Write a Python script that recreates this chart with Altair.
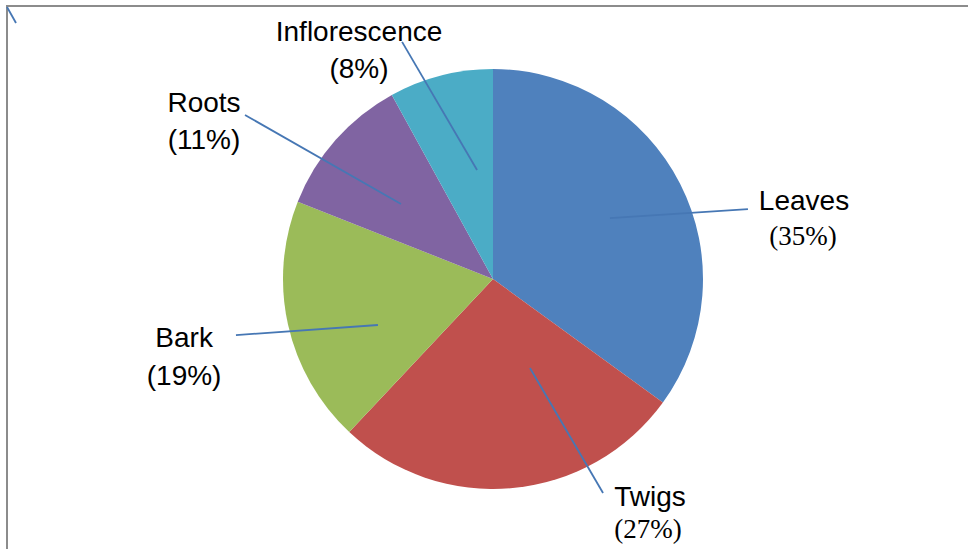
import altair as alt
import pandas as pd

# ---- data ----
categories = ["Leaves", "Twigs", "Bark", "Roots", "Inflorescence"]
shares = [35, 27, 19, 11, 8]
pct_labels = ["(35%)", "(27%)", "(19%)", "(11%)", "(8%)"]
colors = ["#4F81BD", "#C0504D", "#9BBB59", "#8064A2", "#4BACC6"]

# ---- layout (units of pie radius, relative to pie centre) ----
W, H = 968, 549
CX, CY, R = 493, 279, 210
name_xy = [(1.481, 0.367), (0.748, -1.043), (-1.471, -0.286), (-1.376, 0.833), (-0.638, 1.171)]
pct_xy = [(1.476, 0.200), (0.738, -1.195), (-1.471, -0.467), (-1.376, 0.657), (-0.638, 0.995)]
pct_serif = [True, True, False, False, False]
line_in = [(0.557, 0.290), (0.176, -0.424), (-0.548, -0.219), (-0.438, 0.357), (-0.076, 0.519)]
line_out = [(1.214, 0.333), (0.524, -1.019), (-1.224, -0.267), (-1.181, 0.781), (-0.433, 1.129)]

xdom = [(0 - CX) / R, (W - CX) / R]
ydom = [(CY - H) / R, CY / R]
xs = alt.Scale(domain=xdom, range=[0, W], nice=False, zero=False)
ys = alt.Scale(domain=ydom, range=[H, 0], nice=False, zero=False)

pie_df = pd.DataFrame({"cat": categories, "share": shares, "idx": list(range(len(categories)))})
names_df = pd.DataFrame({"cat": categories,
                         "x": [p[0] for p in name_xy], "y": [p[1] for p in name_xy]})
pct_df = pd.DataFrame({"t": pct_labels, "serif": pct_serif,
                       "x": [p[0] for p in pct_xy], "y": [p[1] for p in pct_xy]})
lines_df = pd.DataFrame({"x": [p[0] for p in line_in], "y": [p[1] for p in line_in],
                         "x2": [p[0] for p in line_out], "y2": [p[1] for p in line_out]})

pie = alt.Chart(pie_df).mark_arc(outerRadius=R).encode(
    theta=alt.Theta("share:Q", stack=True),
    order=alt.Order("idx:Q"),
    color=alt.Color("cat:N", scale=alt.Scale(domain=categories, range=colors), legend=None),
    x=alt.value(CX), y=alt.value(CY),
)

leaders = alt.Chart(lines_df).mark_rule(color="#4677B4", strokeWidth=1.8).encode(
    x=alt.X("x:Q", scale=xs, axis=None), y=alt.Y("y:Q", scale=ys, axis=None),
    x2="x2:Q", y2="y2:Q",
)

names = alt.Chart(names_df).mark_text(font="Liberation Sans", fontSize=28, color="black",
                                      align="center", baseline="middle").encode(
    x=alt.X("x:Q", scale=xs, axis=None), y=alt.Y("y:Q", scale=ys, axis=None), text="cat:N")

pct_sans = alt.Chart(pct_df).transform_filter("!datum.serif").mark_text(
    font="Liberation Sans", fontSize=28, color="black", align="center", baseline="middle").encode(
    x=alt.X("x:Q", scale=xs, axis=None), y=alt.Y("y:Q", scale=ys, axis=None), text="t:N")

pct_serif_l = alt.Chart(pct_df).transform_filter("datum.serif").mark_text(
    font="Liberation Serif", fontSize=27, color="black", align="center", baseline="middle").encode(
    x=alt.X("x:Q", scale=xs, axis=None), y=alt.Y("y:Q", scale=ys, axis=None), text="t:N")

dummy = pd.DataFrame({"a": [0]})
frame_left = alt.Chart(dummy).mark_rule(color="#8c8c8c", strokeWidth=2).encode(
    x=alt.value(7), y=alt.value(5), y2=alt.value(H))
frame_top = alt.Chart(dummy).mark_rule(color="#8c8c8c", strokeWidth=2).encode(
    x=alt.value(7), x2=alt.value(W), y=alt.value(6))
stray = alt.Chart(dummy).mark_rule(color="#4677B4", strokeWidth=1.8).encode(
    x=alt.value(7), x2=alt.value(16), y=alt.value(7), y2=alt.value(23))

chart = alt.layer(frame_left, frame_top, stray, pie, leaders, names, pct_sans, pct_serif_l).properties(
    width=W, height=H, autosize=alt.AutoSizeParams(type="none"), padding=0,
    background="white",
).configure_view(stroke=None)

chart.save("out.html", embed_options={"renderer": "svg", "actions": False})
